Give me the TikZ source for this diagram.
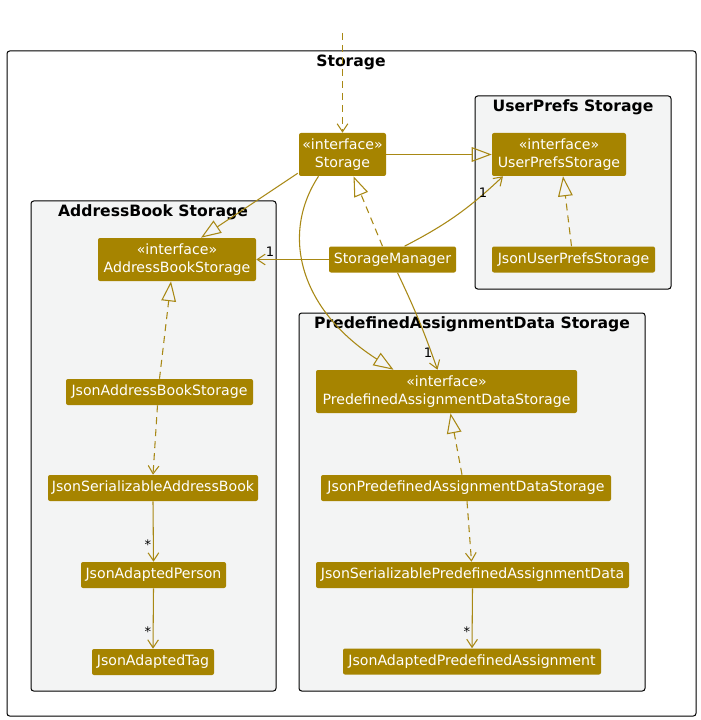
\documentclass[tikz,border=0pt]{standalone}
\usepackage{fontspec}
\setmainfont{DejaVu Sans}
\usetikzlibrary{arrows.meta}
\definecolor{gold}{RGB}{166,132,0}
\definecolor{goldline}{RGB}{168,136,20}
\definecolor{pkgfill}{RGB}{243,244,244}
\begin{document}
\begin{tikzpicture}[x=0.75pt,y=-0.75pt,
  cls/.style={fill=gold, text=white, rounded corners=1.5pt, inner sep=0pt, font=\fontsize{10.6}{13.5}\selectfont, align=center},
  sz/.style 2 args={minimum width=#1*0.75pt, minimum height=#2*0.75pt},
  frm/.style={draw=black, line width=0.75pt, rounded corners=2pt},
  pkg/.style={frm, fill=pkgfill},
  ttl/.style={font=\bfseries\fontsize{11.7}{13}\selectfont, inner sep=0pt},
  lnk/.style={draw=goldline, line width=0.8pt},
  ext/.style={lnk, -{Triangle[open, length=15pt, width=11pt]}},
  impl/.style={ext, dash pattern=on 5.25pt off 3.75pt},
  assoc/.style={lnk, -{Straight Barb[length=6pt, width=8pt]}},
  dep/.style={assoc, dash pattern=on 5.25pt off 3.75pt},
  mult/.style={font=\fontsize{9.8}{11}\selectfont, inner sep=0pt, text=black},
]
\path[use as bounding box] (0,0) rectangle (700,720);
% frames
\draw[frm, fill=white] (7,51) rectangle (696,716);
\node[ttl] (tStorage) at (351,62) {Storage};
\draw[pkg] (475,96) rectangle (671,289);
\node[ttl] (tUser) at (573,107) {UserPrefs Storage};
\draw[pkg] (31,201) rectangle (276,691);
\node[ttl] (tAB) at (153,212) {AddressBook Storage};
\draw[pkg] (299,313) rectangle (645,691);
\node[ttl] (tPD) at (472,324) {PredefinedAssignmentData Storage};
% classes
\node[cls, sz={87}{43}] (st) at (342.5,154.5) {«interface»\\Storage};
\node[cls, sz={134}{43}] (up) at (559,154.5) {«interface»\\UserPrefsStorage};
\node[cls, sz={163}{26}] (jup) at (573.5,259.5) {JsonUserPrefsStorage};
\node[cls, sz={127}{26}] (sm) at (392.5,259.5) {StorageManager};
\node[cls, sz={158}{43}] (ab) at (177,259.5) {«interface»\\AddressBookStorage};
\node[cls, sz={187}{26}] (jab) at (159.5,392) {JsonAddressBookStorage};
\node[cls, sz={210}{26}] (jsab) at (153,488) {JsonSerializableAddressBook};
\node[cls, sz={145}{26}] (jap) at (153.5,575) {JsonAdaptedPerson};
\node[cls, sz={122}{26}] (jat) at (153,662) {JsonAdaptedTag};
\node[cls, sz={261}{43}] (pd) at (446.5,391.5) {«interface»\\PredefinedAssignmentDataStorage};
\node[cls, sz={290}{26}] (jpd) at (466,488) {JsonPredefinedAssignmentDataStorage};
\node[cls, sz={313}{26}] (jss) at (472.5,575) {JsonSerializablePredefinedAssignmentData};
\node[cls, sz={258}{26}] (jap2) at (472,661.5) {JsonAdaptedPredefinedAssignment};
% connectors
\coordinate (topc) at (342.5,33);
\draw[dep] (topc) -- (st.north);
\draw[ext] (st.east) -- (up.west);
\draw[ext] ([xshift=-0.75pt, yshift=2.25pt]st.south west) -- ([xshift=18pt]ab.north);
\draw[impl] ([xshift=-7.5pt]sm.north) -- ([xshift=8.25pt]st.south);
\draw[assoc] ([xshift=9pt]sm.north) to[bend right=8] ([xshift=-42pt]up.south);
\node[mult] (m1) at (483,193) {1};
\draw[assoc] (sm.west) -- (ab.east);
\node[mult] (m2) at (270,252) {1};
\draw[assoc] ([xshift=3.75pt]sm.south) to[bend left=3] ([xshift=-6.75pt]pd.north);
\node[mult] (m3) at (428,353) {1};
\draw[ext] ([xshift=-18pt]st.south) .. controls (280,235) and (300,310) .. ([xshift=-39.75pt]pd.north);
\draw[impl] ([xshift=-1.5pt]jup.north) -- ([xshift=3pt]up.south);
\draw[impl] (jab.north) -- ([xshift=-4.5pt]ab.south);
\draw[dep] ([xshift=-1.5pt]jab.south) -- (jsab.north);
\draw[assoc] (jsab.south) -- (jap.north);
\node[mult] (s1) at (148,545) {*};
\draw[assoc] (jap.south) -- (jat.north);
\node[mult] (s2) at (148,632) {*};
\draw[impl] ([xshift=-3pt]jpd.north) -- ([xshift=3pt]pd.south);
\draw[dep] ([xshift=0.75pt]jpd.south) -- ([xshift=-0.75pt]jss.north);
\draw[assoc] (jss.south) -- (jap2.north);
\node[mult] (s3) at (467,632) {*};
\end{tikzpicture}
\end{document}
